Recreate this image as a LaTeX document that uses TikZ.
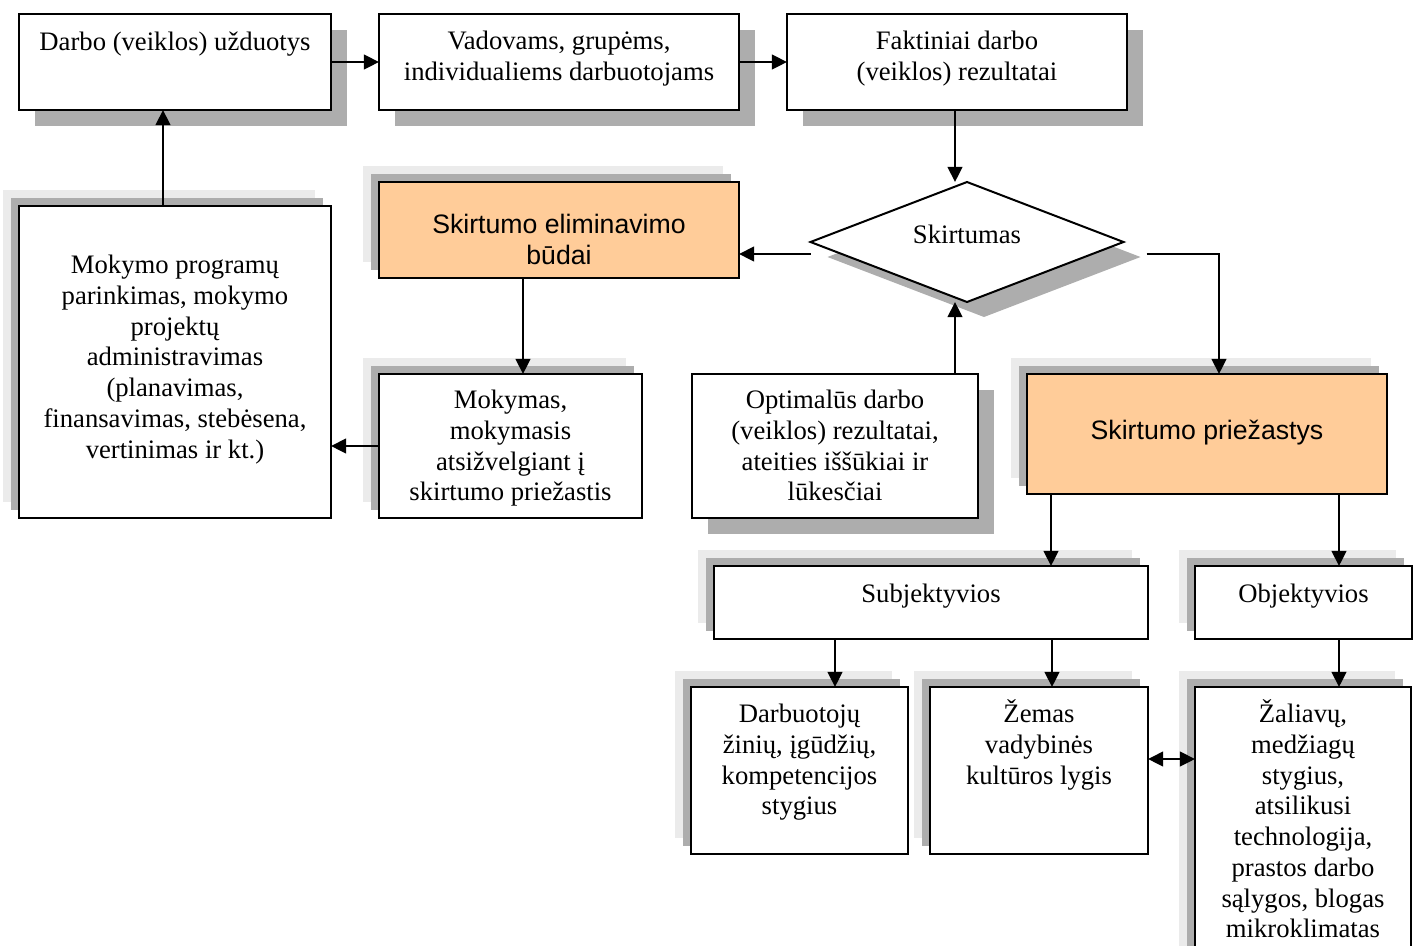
\documentclass[tikz,border=0pt]{standalone}
\usepackage{fontspec}
\setmainfont{Liberation Serif}
\newfontfamily\arialf{Liberation Sans}
\usetikzlibrary{arrows.meta,calc,fit,shapes.geometric,backgrounds}
\definecolor{peach}{RGB}{255,204,153}
\newcommand\bx[8]{%
  \coordinate (#1-a) at (#2,#3);
  \coordinate (#1-b) at (#4,#5);
  \node[#6, fit=(#1-a)(#1-b)] (#1) {};
  \node[#7, anchor=north] (#1-t) at ($(#1.north)+(0,#8-22.4)$) {\rule{0pt}{11pt}\boxtext};
}
\newcommand\shbr[1]{%
  \begin{pgfonlayer}{background}
  \fill[shd] ($(#1.north west)+(16,16)$) rectangle ($(#1.south east)+(16,16)$);
  \end{pgfonlayer}}
\newcommand\shtl[1]{%
  \begin{pgfonlayer}{background}
  \fill[shl] ($(#1.north west)+(-16,-16)$) rectangle ($(#1.south east)+(-16,-16)$);
  \fill[shd] ($(#1.north west)+(-8,-8)$) rectangle ($(#1.south east)+(-8,-8)$);
  \end{pgfonlayer}}
\begin{document}
\begin{tikzpicture}[x=0.45pt,y=-0.45pt,
  box/.style={draw, line width=0.9pt, fill=white, inner sep=0pt, outer sep=0pt},
  pbox/.style={box, fill=peach},
  txt/.style={font=\fontsize{12}{13.85}\selectfont, align=center, inner sep=0pt},
  stxt/.style={font=\arialf\fontsize{12}{13.85}\selectfont, align=center, inner sep=0pt},
  arr/.style={line width=0.9pt, -{Triangle[length=6.8pt,width=6.6pt]}},
  darr/.style={line width=0.9pt, {Triangle[length=6.8pt,width=6.6pt]}-{Triangle[length=6.8pt,width=6.6pt]}},
  shd/.style={fill=black!32},
  shl/.style={fill=black!8}]
\useasboundingbox (0,0) rectangle (1414,945);
\clip (0,0) rectangle (1414,945);

\def\boxtext{Darbo (veiklos) užduotys}
\bx{b1}{19}{14}{331}{110}{box}{txt}{34}
\def\boxtext{Vadovams, grupėms,\\ individualiems darbuotojams}
\bx{b2}{379}{14}{739}{110}{box}{txt}{33}
\def\boxtext{Faktiniai darbo\\ (veiklos) rezultatai}
\bx{b3}{787}{14}{1127}{110}{box}{txt}{33}
\def\boxtext{Mokymo programų\\ parinkimas, mokymo\\ projektų\\ administravimas\\ (planavimas,\\ finansavimas, stebėsena,\\ vertinimas ir kt.)}
\bx{mprog}{19}{206}{331}{518}{box}{txt}{65}
\def\boxtext{Skirtumo eliminavimo\\ būdai}
\bx{elim}{379}{182}{739}{278}{pbox}{stxt}{49}
\def\boxtext{Mokymas,\\ mokymasis\\ atsižvelgiant į\\ skirtumo priežastis}
\bx{mok}{379}{374}{642}{518}{box}{txt}{32}
\def\boxtext{Optimalūs darbo\\ (veiklos) rezultatai,\\ ateities iššūkiai ir\\ lūkesčiai}
\bx{opt}{692}{374}{978}{518}{box}{txt}{32}
\def\boxtext{Skirtumo priežastys}
\bx{prie}{1027}{374}{1387}{494}{pbox}{stxt}{63}
\def\boxtext{Subjektyvios}
\bx{subj}{714}{566}{1148}{639}{box}{txt}{34}
\def\boxtext{Objektyvios}
\bx{obj}{1195}{566}{1412}{639}{box}{txt}{34}
\def\boxtext{Darbuotojų\\ žinių, įgūdžių,\\ kompetencijos\\ stygius}
\bx{darb}{691}{687}{908}{854}{box}{txt}{33}
\def\boxtext{Žemas\\ vadybinės\\ kultūros lygis}
\bx{zem}{930}{687}{1148}{854}{box}{txt}{33}
\def\boxtext{Žaliavų,\\ medžiagų\\ stygius,\\ atsilikusi\\ technologija,\\ prastos darbo\\ sąlygos, blogas\\ mikroklimatas}
\bx{zal}{1195}{687}{1411}{980}{box}{txt}{33}

\node[diamond, draw, line width=0.9pt, fill=white, inner sep=0pt, outer sep=0pt,
  aspect=2.6, minimum width=313*0.45pt, minimum height=120*0.45pt] (dia) at (967,242) {};
\node[txt, anchor=base] (dia-t) at (967,243) {Skirtumas};

% shadows
\shbr{b1}\shbr{b2}\shbr{b3}\shbr{opt}
\shtl{mprog}\shtl{elim}\shtl{mok}\shtl{prie}\shtl{subj}\shtl{obj}\shtl{darb}\shtl{zem}\shtl{zal}
\begin{pgfonlayer}{background}
\fill[shd] ($(dia.north)+(17,15)$) -- ($(dia.east)+(17,15)$) -- ($(dia.south)+(17,15)$) -- ($(dia.west)+(17,15)$) -- cycle;
\end{pgfonlayer}

% connectors
\draw[arr] (b1.east) -- (b2.west);
\draw[arr] (b2.east) -- (b3.west);
\coordinate (p1) at ($(b3.south)+(-2,0)$);
\draw[arr] (p1) -- (p1 |- dia.north);
\coordinate (p2) at (p1 |- opt.north);
\draw[arr] (p2) -- (p2 |- dia.south);
\coordinate (p3) at ($(dia.west)+(0,12)$);
\draw[arr] (p3) -- (p3 -| elim.east);
\coordinate (p4) at ($(dia.east)+(23,12)$);
\coordinate (p5) at ($(prie.north)+(12,0)$);
\draw[arr] (p4) -| (p5);
\coordinate (p6) at ($(elim.south)+(-36,0)$);
\draw[arr] (p6) -- (p6 |- mok.north);
\draw[arr] (mok.west) -- (mok.west -| mprog.east);
\coordinate (p7) at ($(mprog.north)+(-12,0)$);
\draw[arr] (p7) -- (p7 |- b1.south);
\coordinate (p8) at ($(prie.south west)+(24,0)$);
\draw[arr] (p8) -- (p8 |- subj.north);
\coordinate (p9) at ($(prie.south east)+(-48,0)$);
\draw[arr] (p9) -- (p9 |- obj.north);
\coordinate (p10) at ($(subj.south west)+(121,0)$);
\draw[arr] (p10) -- (p10 |- darb.north);
\coordinate (p11) at ($(subj.south east)+(-96,0)$);
\draw[arr] (p11) -- (p11 |- zem.north);
\coordinate (p12) at ($(obj.south east)+(-73,0)$);
\draw[arr] (p12) -- (p12 |- zal.north);
\coordinate (p13) at ($(zem.east)+(0,-11.5)$);
\draw[darr] (p13) -- (p13 -| zal.west);
\end{tikzpicture}
\end{document}
